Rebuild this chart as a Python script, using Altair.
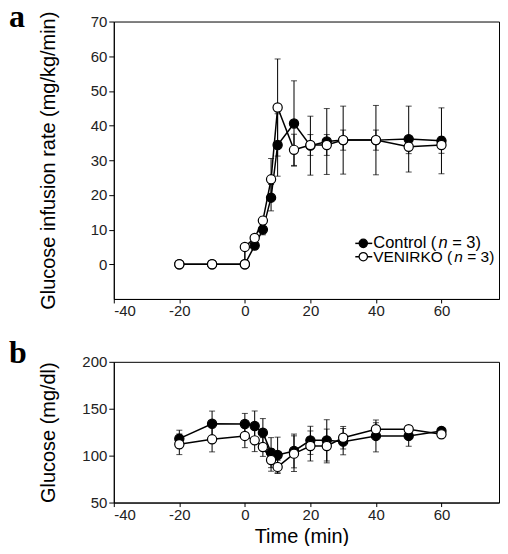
import altair as alt
import pandas as pd

# ---------------- data ----------------
x_ticks = [-40, -20, 0, 20, 40, 60]
ya_ticks = [0, 10, 20, 30, 40, 50, 60, 70]
yb_ticks = [50, 100, 150, 200]

# Panel a: glucose infusion rate (mg/kg/min)
a_ctrl_t = [-20, -10, 0, 3, 5.5, 8, 10, 15, 20, 25, 30, 40, 50, 60]
a_ctrl_v = [0, 0, 0, 5.4, 10.0, 19.2, 34.4, 40.6, 34.2, 35.4, 35.8, 35.8, 36.1, 35.6]
a_ctrl_e = [0, 0, 0, 1.0, 1.5, 3.8, 9.0, 12.3, 8.5, 9.5, 9.8, 10.0, 9.5, 9.5]
a_ven_t = [-20, -10, 0, 0, 3, 5.5, 8, 10, 15, 20, 25, 30, 40, 50, 60]
a_ven_v = [0, 0, 0, 5.0, 7.6, 12.6, 24.5, 45.2, 33.0, 34.4, 34.4, 35.8, 35.8, 33.9, 34.4]
a_ven_e = [0, 0, 0, 0, 0.8, 1.2, 6.0, 14.0, 4.5, 3.0, 3.0, 2.9, 2.9, 2.0, 2.4]

# Panel b: glucose (mg/dl)
b_t = [-20, -10, 0, 3, 5.5, 8, 10, 15, 20, 25, 30, 40, 50, 60]
b_ctrl_v = [118.1, 134.0, 133.7, 131.6, 124.5, 103.2, 100.7, 105.0, 116.3, 116.3, 114.9, 121.0, 121.0, 126.3]
b_ctrl_e = [9, 13.5, 11.3, 16, 15, 16, 19, 18, 15, 22, 14, 17, 11, 3]
b_ven_v = [112.1, 117.4, 121.0, 116.3, 109.2, 95.4, 88.0, 102.1, 110.3, 110.3, 119.1, 128.1, 128.1, 122.7]
b_ven_e = [11, 13.4, 12.5, 12, 10, 12, 7, 19, 16, 18, 12, 7, 3, 3]


def frame(t, v, e):
    df = pd.DataFrame({"t": t, "v": v, "err": e})
    df["order"] = range(len(df))
    df["lo"] = df["v"] - df["err"]
    df["hi"] = df["v"] + df["err"]
    return df


FONT = "Liberation Sans"
one = pd.DataFrame({"k": [0]})
X_DOMAIN = [-40, 77.56]
PLOT_W = 386


def series(df, xs, ys, xax, yax, filled):
    base = alt.Chart(df)
    xenc = alt.X("t:Q", scale=xs, axis=xax)
    errs = base.transform_filter("datum.err > 0")
    rule = errs.mark_rule(color="black", strokeWidth=1).encode(
        x=xenc, y=alt.Y("lo:Q", scale=ys, axis=yax), y2="hi:Q")
    cap_hi = errs.mark_tick(orient="horizontal", size=6, thickness=1, color="black").encode(
        x=xenc, y=alt.Y("hi:Q", scale=ys, axis=yax))
    cap_lo = errs.mark_tick(orient="horizontal", size=6, thickness=1, color="black").encode(
        x=xenc, y=alt.Y("lo:Q", scale=ys, axis=yax))
    line = base.mark_line(color="black", strokeWidth=1.5).encode(
        x=xenc, y=alt.Y("v:Q", scale=ys, axis=yax), order="order:Q")
    pts = base.mark_point(shape="circle", filled=True, size=85,
                          fill="black" if filled else "white",
                          stroke="black", strokeWidth=1.2, opacity=1).encode(
        x=xenc, y=alt.Y("v:Q", scale=ys, axis=yax))
    return [rule, cap_hi, cap_lo, line, pts]


def panel(ctrl, ven, ydom, yticks, ytitle, h, letter, letter_y, xtitle=None, legend=False):
    xs = alt.Scale(domain=X_DOMAIN, nice=False, zero=False)
    ys = alt.Scale(domain=ydom, nice=False, zero=False)
    xkw = dict(values=x_ticks, tickSize=4, labelPadding=1, grid=False,
               labelExpr="replace(datum.label, '\u2212', '-')")
    if xtitle:
        xkw.update(title=xtitle, titlePadding=4, titleX=188)
    else:
        xkw.update(title="")
    xax = alt.Axis(**xkw)
    yax = alt.Axis(values=yticks, title=ytitle, tickSize=5, labelPadding=2, grid=False,
                   titleX=-55)
    layers = series(ctrl, xs, ys, xax, yax, True) + series(ven, xs, ys, xax, yax, False)
    if legend:
        lb = alt.Chart(one)
        # (y, label, font size, width of label at that size)
        rows = [(222.3, "Control (", 16.5, 63.3, True), (235.7, "VENIRKO (", 15.5, 79.2, False)]
        for yy, lab, fs, w, filled in rows:
            layers.append(lb.mark_rule(color="black", strokeWidth=1.5).encode(
                x=alt.value(242), x2=alt.value(259), y=alt.value(yy)))
            layers.append(lb.mark_point(shape="circle", filled=True, size=70,
                                        fill="black" if filled else "white",
                                        stroke="black", strokeWidth=1.2, opacity=1).encode(
                x=alt.value(250), y=alt.value(yy)))
            tkw = dict(align="left", baseline="middle", font=FONT, fontSize=fs, color="black")
            nx = 260 + w + 2
            nw = 0.556 * fs
            layers.append(lb.mark_text(text=lab, **tkw).encode(x=alt.value(260), y=alt.value(yy)))
            layers.append(lb.mark_text(text="n", fontStyle="italic", **tkw).encode(
                x=alt.value(nx), y=alt.value(yy)))
            layers.append(lb.mark_text(text="= 3)", **tkw).encode(
                x=alt.value(nx + nw + 0.28 * fs), y=alt.value(yy)))
    layers.append(alt.Chart(one).mark_text(text=letter, align="left", baseline="alphabetic",
                                           font="Liberation Serif", fontSize=32,
                                           fontWeight="bold", color="black").encode(
        x=alt.value(-105), y=alt.value(letter_y)))
    return alt.layer(*layers).properties(width=PLOT_W, height=h)


pa = panel(frame(a_ctrl_t, a_ctrl_v, a_ctrl_e), frame(a_ven_t, a_ven_v, a_ven_e),
           [-10, 70], ya_ticks, "Glucose infusion rate (mg/kg/min)", 278, "a", 5, legend=True)
pb = panel(frame(b_t, b_ctrl_v, b_ctrl_e), frame(b_t, b_ven_v, b_ven_e),
           [50, 200], yb_ticks, "Glucose (mg/dl)", 141, "b", 1, xtitle="Time (min)")

chart = alt.vconcat(pa, pb, spacing=16).properties(
    padding={"top": -9, "left": 0, "right": 0, "bottom": -2}
).configure_view(
    stroke="black", strokeWidth=1
).configure_axis(
    domainColor="black", tickColor="black", labelColor="#222", labelFont=FONT,
    labelFontSize=15, titleFont=FONT, titleFontSize=20, titleFontWeight="normal",
    titleColor="black", domainWidth=1, tickWidth=1
)

chart.save("out.html", embed_options={"renderer": "svg", "actions": False})
